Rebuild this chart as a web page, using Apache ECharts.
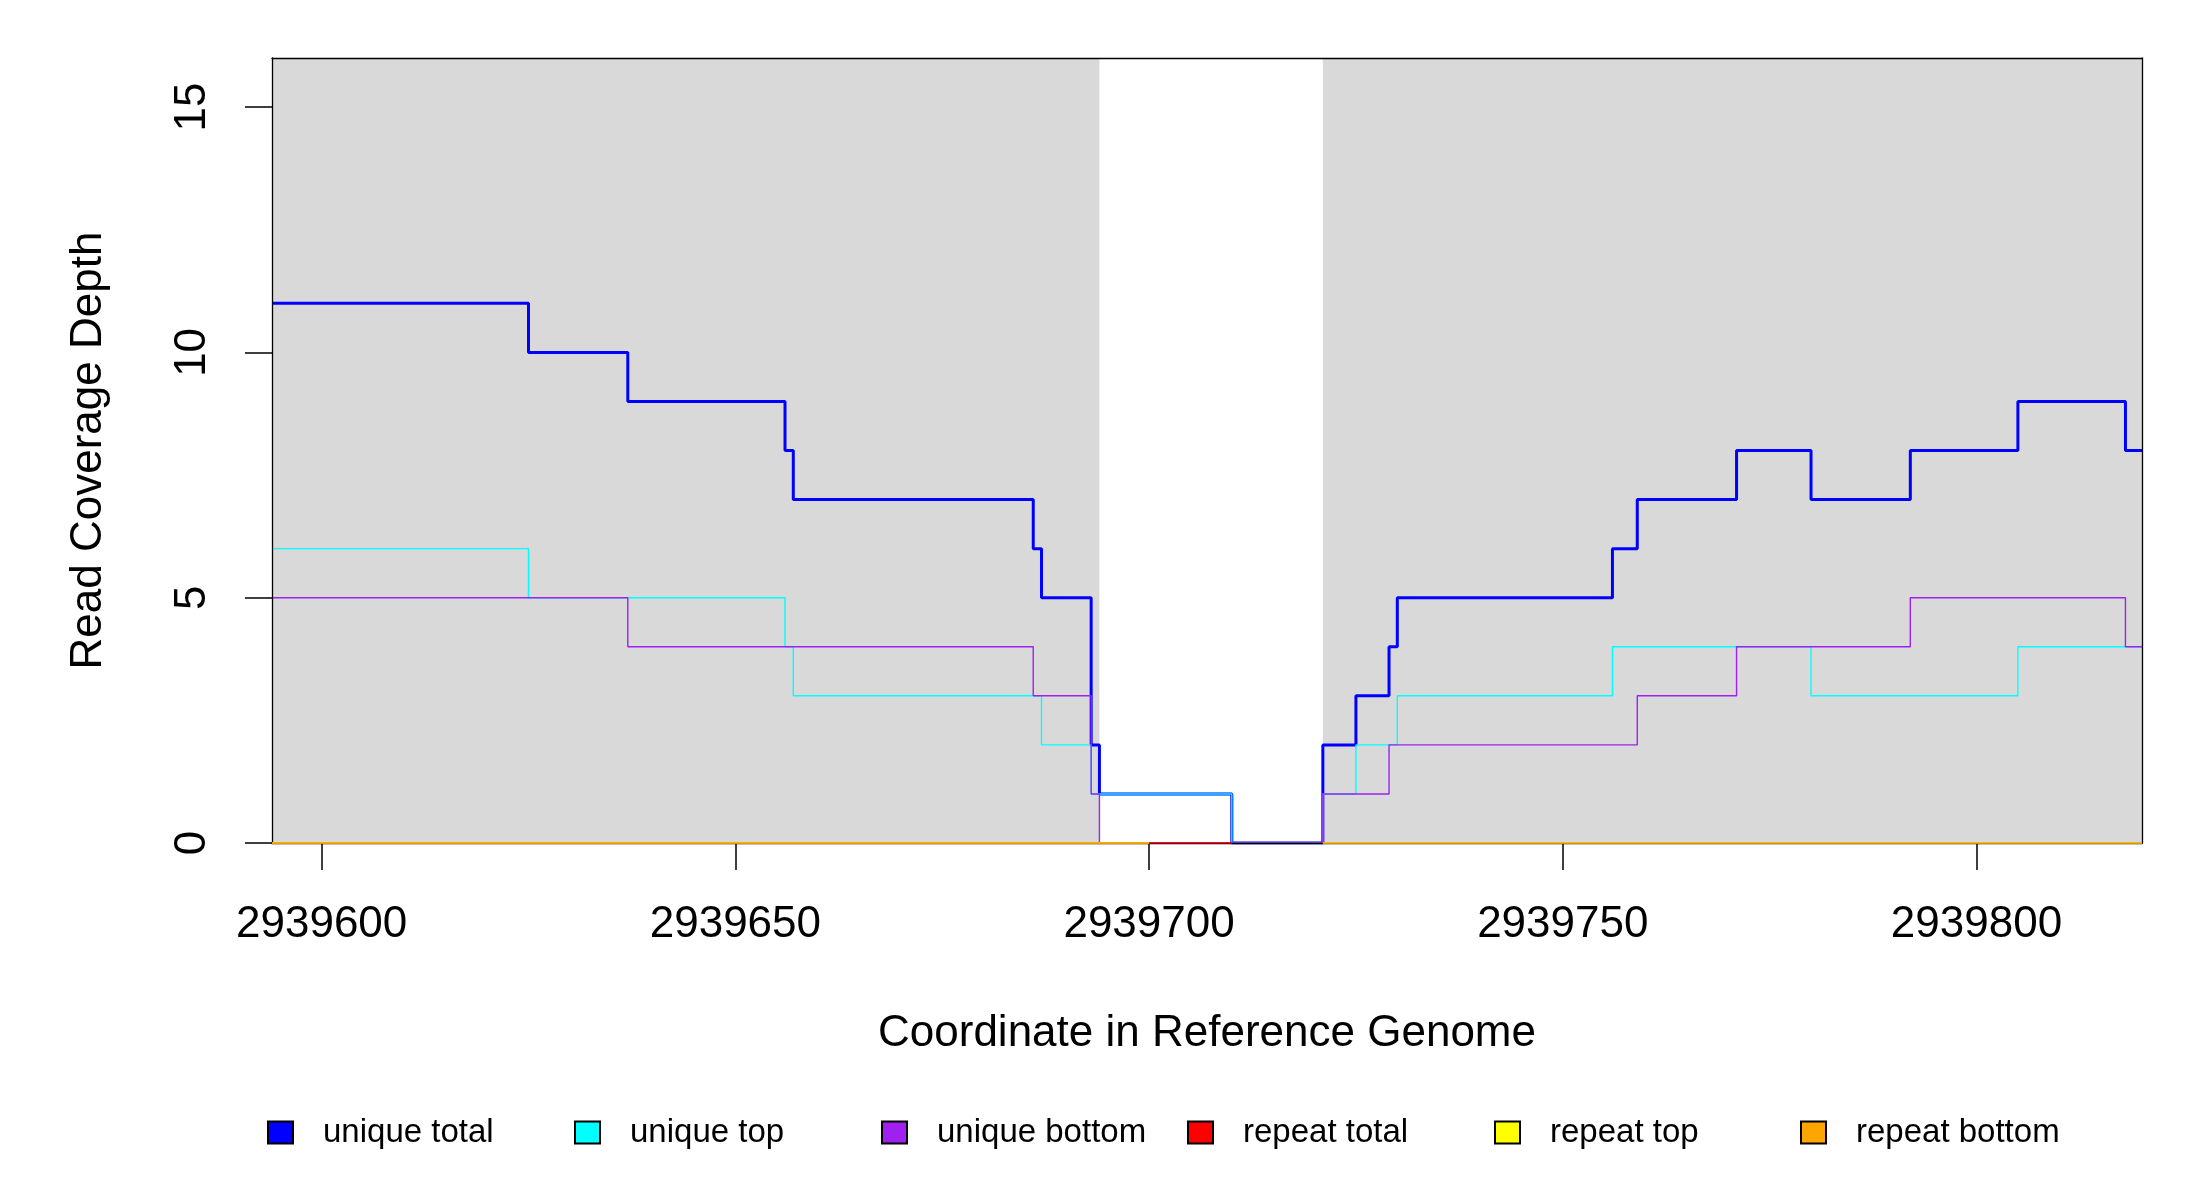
<!DOCTYPE html>
<html>
<head>
<meta charset="utf-8">
<script src="https://cdn.jsdelivr.net/npm/echarts@6/dist/echarts.min.js"></script>
<style>
  html, body { margin: 0; padding: 0; background: #fff; }
  #chart { width: 2200px; height: 1200px; }
</style>
</head>
<body>
<div id="chart"></div>
<script>
// genome window shown
var xMin = 2939594;
var xMax = 2939820;
var xTicks = [2939600, 2939650, 2939700, 2939750, 2939800];
var yTicks = [0, 5, 10, 15];

// grey shaded spans
var shadedRanges = [[2939594, 2939694], [2939721, 2939820]];

// unique total: positions where a depth starts, and that depth
var totalPos = [2939594, 2939625, 2939637, 2939656, 2939657, 2939686, 2939687, 2939693, 2939694, 2939710,
  2939721, 2939725, 2939729, 2939730, 2939756, 2939759, 2939771, 2939780, 2939792, 2939805, 2939818, 2939820];
var totalVal = [11, 10, 9, 8, 7, 6, 5, 2, 1, 0,
  2, 3, 4, 5, 6, 7, 8, 7, 8, 9, 8, 8];

// unique top
var topPos = [2939594, 2939625, 2939656, 2939657, 2939687, 2939693, 2939710, 2939721, 2939725, 2939730,
  2939756, 2939780, 2939805, 2939820];
var topVal = [6, 5, 4, 3, 2, 1, 0, 1, 2, 3,
  4, 3, 4, 4];

// unique bottom
var bottomPos = [2939594, 2939637, 2939686, 2939693, 2939694, 2939721, 2939729, 2939759, 2939771, 2939792,
  2939818, 2939820];
var bottomVal = [5, 4, 3, 1, 0, 1, 2, 3, 4, 5,
  4, 4];

// repeat reads (all zero)
var repTotalPos = [2939594, 2939710];
var repTotalVal = [0, 0];
var repTopPos = [2939594, 2939694, 2939700, 2939721, 2939820];
var repTopVal = [0, 0, null, 0, 0];
var repBottomPos = [2939594, 2939694, 2939700, 2939721, 2939820];
var repBottomVal = [0, 0, null, 0, 0];

var seriesNames = ['unique total', 'unique top', 'unique bottom', 'repeat total', 'repeat top', 'repeat bottom'];
var seriesColors = ['#0000FF', '#00FFFF', '#A020F0', '#FF0000', '#FFFF00', '#FFA500'];

function pairs(pos, val) {
  return pos.map(function (p, i) { return [p, val[i]]; });
}

var chart = echarts.init(document.getElementById('chart'));

var font = 'Liberation Sans, Arial, sans-serif';

var lineData = [
  pairs(totalPos, totalVal),
  pairs(topPos, topVal),
  pairs(bottomPos, bottomVal),
  pairs(repTotalPos, repTotalVal),
  pairs(repTopPos, repTopVal),
  pairs(repBottomPos, repBottomVal)
];
var widths = [3, 1.4, 1.4, 1.4, 1.4, 1.6];
// repeat lines sit over the frame, as in the original
var zs = [3, 4, 5, 11, 12, 13];

var series = [{
  name: 'shade',
  type: 'line',
  data: [],
  z: 1,
  silent: true,
  markArea: {
    silent: true,
    itemStyle: { color: '#D9D9D9' },
    data: shadedRanges.map(function (r) { return [{ xAxis: r[0] }, { xAxis: r[1] }]; })
  }
}];
seriesNames.forEach(function (n, i) {
  series.push({
    name: n,
    type: 'line',
    step: 'end',
    symbol: 'none',
    z: zs[i],
    data: lineData[i],
    lineStyle: { color: seriesColors[i], width: widths[i] },
    itemStyle: { color: seriesColors[i] }
  });
});

// one legend block per item so they sit on an even column spacing
var legendLeft = [262, 569, 876, 1182, 1489, 1795];
var legends = seriesNames.map(function (n, i) {
  return {
    left: legendLeft[i],
    top: 1111,
    data: [n],
    icon: 'rect',
    itemWidth: 25,
    itemHeight: 22,
    itemStyle: { borderColor: '#000', borderWidth: 2 },
    textStyle: { fontFamily: font, fontSize: 33, color: '#000', padding: [0, 0, 0, 25] }
  };
});

var option = {
  animation: false,
  backgroundColor: '#fff',
  grid: { left: 272, right: 58, top: 58, bottom: 357 },
  legend: legends,
  xAxis: [{
    type: 'value',
    min: xMin,
    max: xMax,
    z: 10,
    splitLine: { show: false },
    axisLine: { show: true, onZero: false, lineStyle: { color: '#000', width: 1.3 } },
    axisTick: { show: true, length: 27, customValues: xTicks, lineStyle: { color: '#000', width: 1.5 } },
    axisLabel: {
      customValues: xTicks,
      margin: 60,
      fontFamily: font,
      fontSize: 44,
      color: '#000',
      formatter: function (v) { return String(v); }
    },
    name: 'Coordinate in Reference Genome',
    nameLocation: 'middle',
    nameGap: 169,
    nameTextStyle: { fontFamily: font, fontSize: 44, color: '#000' }
  }, {
    type: 'value',
    position: 'top',
    min: xMin,
    max: xMax,
    z: 10,
    splitLine: { show: false },
    axisLine: { show: true, onZero: false, lineStyle: { color: '#000', width: 1.3 } },
    axisTick: { show: false },
    axisLabel: { show: false }
  }],
  yAxis: [{
    type: 'value',
    min: 0,
    max: 16,
    z: 10,
    splitLine: { show: false },
    axisLine: { show: true, onZero: false, lineStyle: { color: '#000', width: 1.3 } },
    axisTick: { show: true, length: 27, customValues: yTicks, lineStyle: { color: '#000', width: 1.5 } },
    axisLabel: {
      customValues: yTicks,
      rotate: 90,
      margin: 57,
      fontFamily: font,
      fontSize: 44,
      color: '#000'
    },
    name: 'Read Coverage Depth',
    nameLocation: 'middle',
    nameRotate: 90,
    nameGap: 161,
    nameTextStyle: { fontFamily: font, fontSize: 44, color: '#000' }
  }, {
    type: 'value',
    position: 'right',
    min: 0,
    max: 16,
    z: 10,
    splitLine: { show: false },
    axisLine: { show: true, onZero: false, lineStyle: { color: '#000', width: 1.3 } },
    axisTick: { show: false },
    axisLabel: { show: false }
  }],
  series: series
};

chart.setOption(option);
</script>
</body>
</html>
